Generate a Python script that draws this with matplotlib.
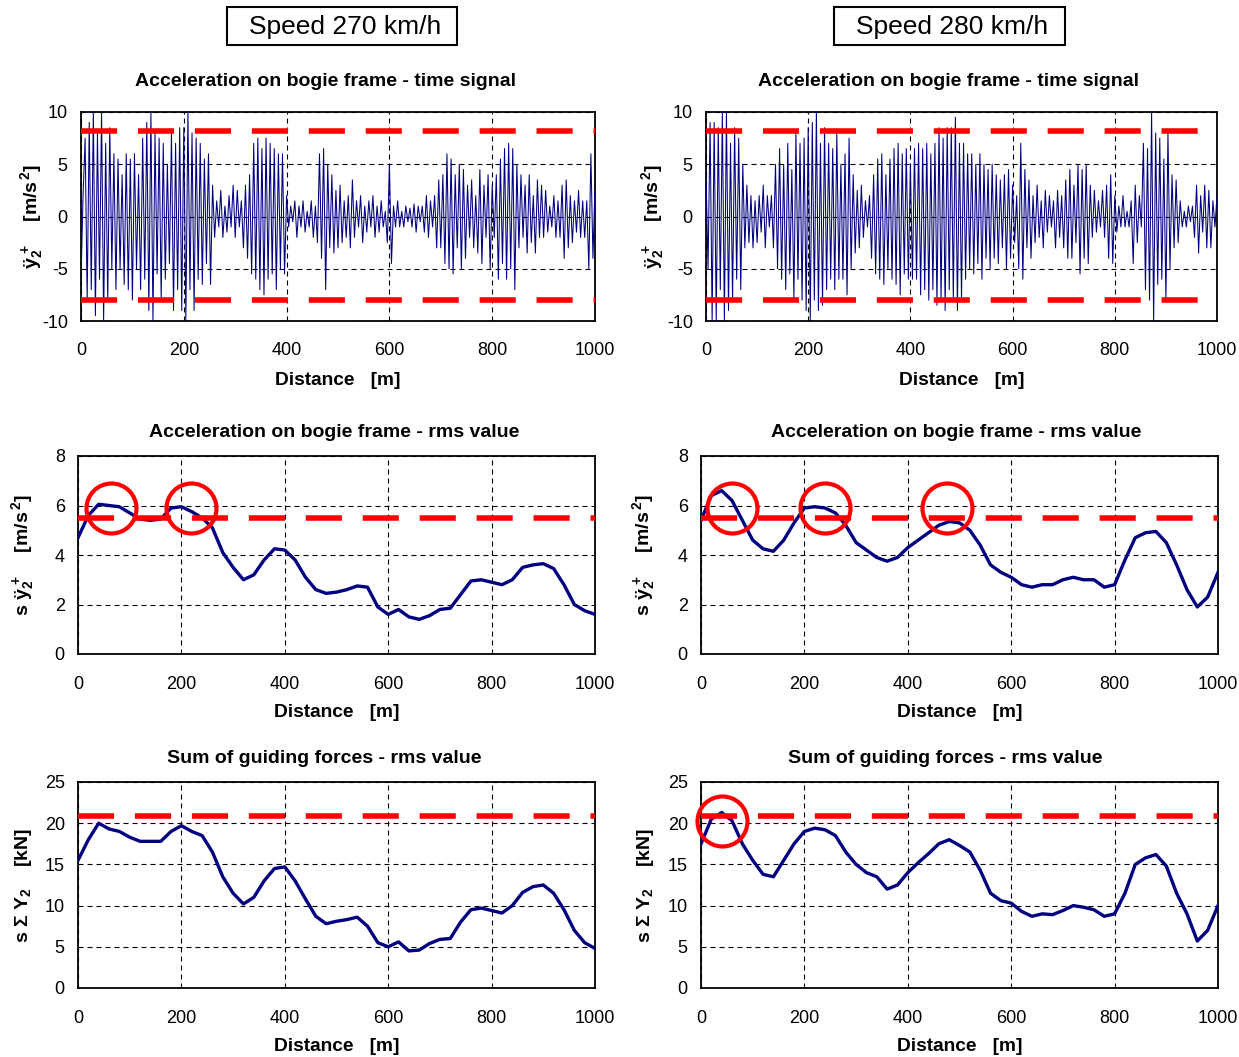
import numpy as np
import matplotlib
matplotlib.use("Agg")
import matplotlib.pyplot as plt
from matplotlib.patches import Rectangle

plt.rcParams['font.family'] = ['Liberation Sans', 'DejaVu Sans']
plt.rcParams['mathtext.fontset'] = 'custom'
plt.rcParams['mathtext.rm'] = 'Liberation Sans'
plt.rcParams['mathtext.bf'] = 'Liberation Sans:bold'
plt.rcParams['mathtext.it'] = 'Liberation Sans:italic'
plt.rcParams['mathtext.default'] = 'bf'
plt.rcParams['axes.unicode_minus'] = False

# ---- data ----
speeds = ['Speed 270 km/h', 'Speed 280 km/h']

# lateral bogie frame acceleration, one sample every ~4 m
acc_270 = [
    -6, 2, 7.5, -8, 9, -7, 10, -9.5, 8, -6, 10, -10, 7, -8, 8.5, -5, 6, -7, 5.5, -5, 4, -6.5, 6, -7, 5.5,
    -8, 6, -5, 4, -7, 7.5, -6, 9, -9, 10, -10, 8, -5.5, 7.5, -8, 7, -6, 5, -4.5, 8, -9, 7, -7, 8.5, -9,
    8.5, -10, 10, -7, 8, -9, 7.5, -6, 7, -6.5, 5.5, -4.5, 6, -6.5, 3, -2, 1.5, -1, 2.5, -2, 1, -1.5, 2, -1, 3,
    -2, 2.5, -1, 1.5, -3, 3, -4, 4, -5.5, 7, -6, 7.5, -7, 6.5, -7.5, 7.5, -6, 7, -5.5, 6.5, -7, 6, -5, 6, -5.5,
    2, -1, 1, -0.5, 1.5, -2, 1, -1, 1.5, -1.5, 0.5, -1, 1.5, -2, 1, -2.5, 6, -4, 6.5, -7, 5, -3, 4, -3.5, 2.5,
    -3, 3, -2.5, 1.5, -2, 2, -3, 3.5, -2, 1.5, -1, 2, -2.5, 1, -1.5, 1.5, -1, 2, -2, 1, -1.5, 1.5, -1, 0.5, -2.5,
    5, -4.5, 1, -1, 1.5, -1, 0.5, -1, 1, -0.5, 0.8, -1, 1.2, -1.5, 1, -0.5, 1, -1.5, 2, -2, 1.5, -1, 2, -3, 3.5,
    -3, 4, -4.5, 6, -5, 5.5, -5.5, 4, -3, 5, -5, 4.5, -4, 3, -2, 3.5, -3, 2, -3.5, 4.5, -4.5, 3, -2, 4, -5,
    3, -2, 4, -6, 5.5, -4.5, 6.5, -6, 7, -5, 6.5, -7, 5, -3, 4, -2, 3, -3.5, 4, -2.5, 2, -3.5, 3.5, -2, 3,
    -2, 2.5, -1.5, 1, -1, 2, -2, 1.5, -2, 3, -4, 3.5, -3, 2, -2.5, 1.5, -1.5, 2.5, -2, 1.5, -2, 1.5, -5, 6, -4,
    3,
]
acc_280 = [
    4, -5, 9, -10, 9, -10, 8.5, -7, 10, -10, 10, -9, 7, -8, 8.5, -6, 7.5, -7, 5, -3, 3, -2.5, 2, -3, 1.5,
    -2.5, 2, -1.5, 3, -3, 2, -1, 2, -3, 5, -5, 6.5, -6, 5, -7, 7, -5.5, 4.5, -8, 8, -6, 7, -8, 7.5, -9,
    8.5, -10, 9, -8, 10, -9, 7, -8.5, 8.5, -7, 7, -6, 6.5, -7, 8, -6, 5, -6, 6, -7.5, 7.5, -5, 4, -3.5, 2.5,
    -3, 3, -2, 1.5, -1, 2, -4, 4, -5.5, 5.5, -6, 6, -6.5, 4, -5, 5.5, -6, 6.5, -6.5, 7, -7.5, 6, -5.5, 6.5, -6,
    5, -6, 6.5, -6, 7, -7.5, 6.5, -7, 7, -8, 6, -7, 7, -8.5, 8.5, -8, 7.5, -9, 8.5, -7, 8.5, -8, 9.5, -9, 7,
    -8, 7, -6, 6, -5, 6, -5.5, 5, -4.5, 6, -6, 5, -4, 4.5, -5, 5, -4, 4, -4.5, 3.5, -3, 4, -5, 4.5, -4,
    3, -2.5, 2, -5, 7, -6, 4.5, -3, 3.5, -4, 2, -2.5, 3, -2, 1.5, -3, 2.5, -1.5, 2, -1, 1.5, -3, 2.5, -2, 2,
    -3, 3.5, -4, 4.5, -4, 3, -2.5, 5, -5.5, 4.5, -4, 5, -4.5, 3, -2, 2.5, -1.5, 1.5, -1, 2.5, -2, 3, -4, 4, -4.5,
    2, -1.5, 1, -1, 2, -1, 0.5, -1, 1.5, -4.5, 3, -2.5, 2, -1, 7, -7, 6.5, -8, 10, -10, 8, -6.5, 7.5, -6, 5.5,
    -8, 8, -5, 4, -3, 3.5, -2.5, 1.5, -1, 0.5, -1, 1, -0.5, 1, -2, 3, -3.5, 2, -1.5, 3, -3, 2.5, -3, 1.5, -1,
    2,
]

# rms values, every 20 m
acc_rms_270 = [4.7, 5.6, 6.05, 6.0, 5.95, 5.7, 5.45, 5.4, 5.45, 5.9, 5.95, 5.75, 5.5, 5.1, 4.1, 3.5,
               3.0, 3.2, 3.8, 4.25, 4.2, 3.8, 3.1, 2.6, 2.45, 2.5, 2.6, 2.75, 2.7, 1.9, 1.6, 1.8,
               1.5, 1.4, 1.55, 1.8, 1.85, 2.4, 2.95, 3.0, 2.9, 2.8, 3.0, 3.5, 3.6, 3.65, 3.45, 2.8,
               2.0, 1.75, 1.6]
acc_rms_280 = [5.4, 6.4, 6.6, 6.2, 5.4, 4.6, 4.25, 4.15, 4.6, 5.3, 5.9, 5.95, 5.9, 5.7, 5.2, 4.5,
               4.2, 3.9, 3.75, 3.9, 4.3, 4.6, 4.9, 5.2, 5.35, 5.3, 5.0, 4.4, 3.6, 3.3, 3.1, 2.8,
               2.7, 2.8, 2.8, 3.0, 3.1, 3.0, 3.0, 2.7, 2.8, 3.8, 4.7, 4.9, 4.95, 4.5, 3.6, 2.6,
               1.9, 2.3, 3.3]
force_rms_270 = [15.5, 18.0, 20.0, 19.3, 19.0, 18.3, 17.8, 17.8, 17.8, 19.0, 19.7, 19.0, 18.5, 16.5,
                 13.5, 11.5, 10.2, 11.0, 13.0, 14.5, 14.7, 13.0, 10.8, 8.7, 7.8, 8.1, 8.3, 8.6, 7.5,
                 5.5, 5.0, 5.6, 4.5, 4.6, 5.4, 5.9, 6.0, 8.0, 9.5, 9.7, 9.4, 9.1, 10.0, 11.6, 12.3,
                 12.5, 11.5, 9.5, 7.0, 5.5, 4.8]
force_rms_280 = [17.5, 20.5, 21.3, 20.3, 17.5, 15.5, 13.8, 13.5, 15.5, 17.5, 19.0, 19.4, 19.2, 18.5,
                 16.5, 15.0, 14.0, 13.5, 12.0, 12.5, 14.0, 15.2, 16.3, 17.5, 18.0, 17.3, 16.5, 14.3,
                 11.5, 10.6, 10.3, 9.3, 8.7, 9.0, 8.9, 9.4, 10.0, 9.8, 9.5, 8.7, 9.0, 11.5, 15.0,
                 15.8, 16.2, 14.8, 11.5, 9.0, 5.7, 7.0, 10.0]

# limit values
acc_limit_upper = 8.2
acc_limit_lower = -8.0
acc_rms_limit = 5.5
force_rms_limit = 20.9

# exceedances marked with circles (distance, value)
marks_acc_270 = [(64, 5.9), (218, 5.9)]
marks_acc_280 = [(60, 5.9), (239, 5.9), (475, 5.9)]
marks_force_280 = [(41, 20.3)]

titles = ['Acceleration on bogie frame - time signal',
          'Acceleration on bogie frame - rms value',
          'Sum of guiding forces - rms value']
ylabels = [r'ÿ$_2^{\,+}$    [m/s$^{\,2}$]',
           r's ÿ$_2^{\,+}$    [m/s$^{\,2}$]',
           r's $\Sigma$ Y$_2$    [kN]']

# ---- layout ----
W, H = 1239, 1057
fig = plt.figure(figsize=(W / 100, H / 100), dpi=100)


def add_ax(l, r, t, b):
    return fig.add_axes([l / W, 1 - b / H, (r - l) / W, (b - t) / H])


navy = '#000080'
red = '#ff0000'


def style(ax, ylim, yticks, title, tx, tpad, ylabel, ylx, xpad, xly):
    ax.set_xlim(0, 1000)
    ax.set_ylim(*ylim)
    ax.set_xticks(range(0, 1001, 200))
    ax.set_yticks(yticks)
    ax.grid(True, color='black', lw=0.8, ls=(0, (4.5, 3.6)))
    ax.set_axisbelow(True)
    ax.tick_params(axis='x', length=0, labelsize=13, pad=xpad)
    ax.tick_params(axis='y', length=0, labelsize=13, pad=9.5)
    for s in ax.spines.values():
        s.set_linewidth(1.3)
    ax.set_title(title, fontsize=14, fontweight='bold', pad=tpad, x=tx)
    ax.set_xlabel('Distance   [m]', fontsize=13.8, fontweight='bold')
    ax.xaxis.set_label_coords(0.5, xly)
    ax.set_ylabel(ylabel, fontsize=14, fontweight='bold')
    ax.yaxis.set_label_coords(ylx, 0.5)


def limit(ax, y):
    ax.axhline(y, color=red, lw=4, ls=(0, (6.5, 3.75)), zorder=4)


def circles(ax, marks):
    for cx, cy in marks:
        ax.plot(cx, cy, 'o', ms=36, mfc='none', mec=red, mew=3, zorder=5, clip_on=False)


# speed header boxes
for (bl, br, txt_x), txt in zip([(227, 457, 345), (834, 1065, 952)], speeds):
    fig.patches.append(Rectangle((bl / W, 1 - 45 / H), (br - bl) / W, 38 / H,
                                 transform=fig.transFigure, fill=False, ec='black', lw=1.5))
    fig.text(txt_x / W, 1 - 27 / H, txt, ha='center', va='center', fontsize=19)

# row 1: time signals
ax1 = add_ax(81, 595, 112, 321)
ax2 = add_ax(706, 1217, 112, 321)
for ax, sig, tx, ylx in [(ax1, acc_270, 0.475, -0.07), (ax2, acc_280, 0.474, -0.078)]:
    d = np.linspace(0, 1000, len(sig))
    ax.plot(d, sig, color=navy, lw=0.75, zorder=3)
    limit(ax, acc_limit_upper)
    limit(ax, acc_limit_lower)
    style(ax, (-10, 10), [-10, -5, 0, 5, 10], titles[0], tx, 19, ylabels[0], ylx, 15, -0.245)

# row 2: acceleration rms
ax3 = add_ax(78, 595, 456, 654)
ax4 = add_ax(701, 1218, 456, 654)
for ax, sig, marks, tx, ylx in [(ax3, acc_rms_270, marks_acc_270, 0.496, -0.081),
                                (ax4, acc_rms_280, marks_acc_280, 0.493, -0.085)]:
    d = np.linspace(0, 1000, len(sig))
    ax.plot(d, sig, color=navy, lw=2.4, zorder=3)
    limit(ax, acc_rms_limit)
    circles(ax, marks)
    style(ax, (0, 8), [0, 2, 4, 6, 8], titles[1], tx, 14, ylabels[1], ylx, 16, -0.255)

# row 3: guiding force rms
ax5 = add_ax(78, 595, 782, 988)
ax6 = add_ax(701, 1218, 782, 988)
for ax, sig, marks, tx, ylx in [(ax5, force_rms_270, [], 0.476, -0.085),
                                (ax6, force_rms_280, marks_force_280, 0.473, -0.087)]:
    d = np.linspace(0, 1000, len(sig))
    ax.plot(d, sig, color=navy, lw=2.4, zorder=3)
    limit(ax, force_rms_limit)
    circles(ax, marks)
    style(ax, (0, 25), [0, 5, 10, 15, 20, 25], titles[2], tx, 14, ylabels[2], ylx, 16, -0.245)

fig.savefig('out.png', dpi=100)
